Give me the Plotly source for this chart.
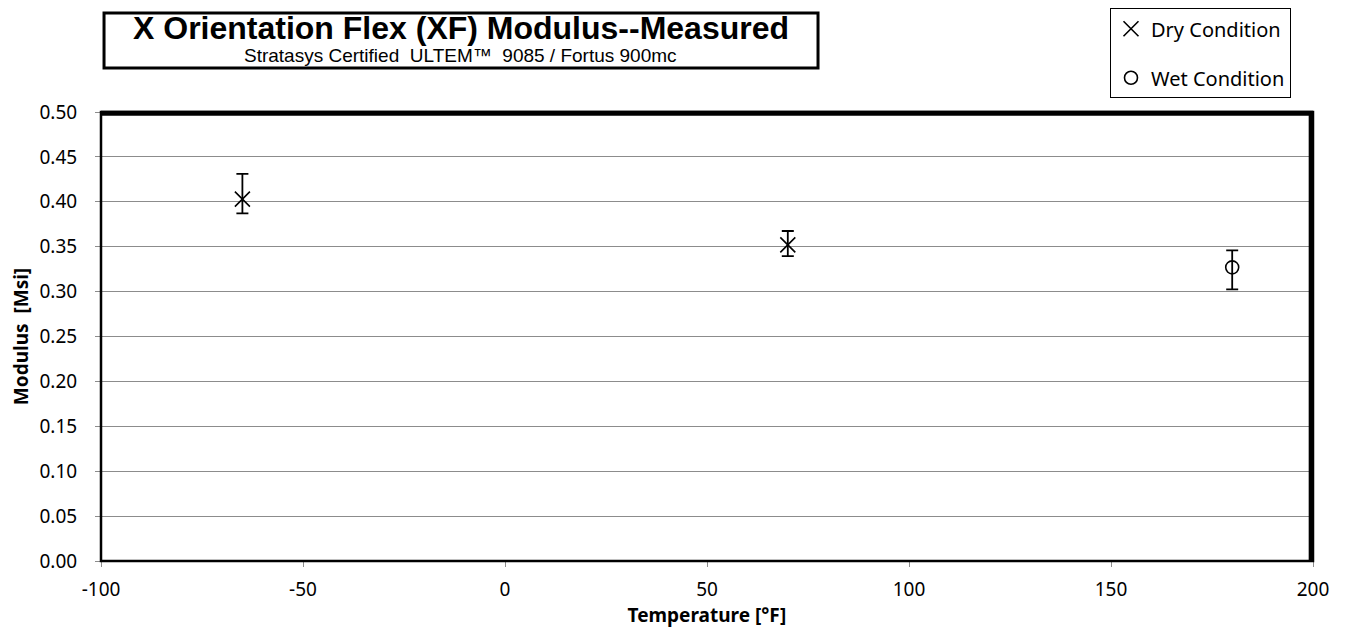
import plotly.graph_objects as go

# --- data ---
dry_temp = [-65, 70]
dry_modulus = [0.403, 0.352]
dry_err_plus = [0.028, 0.0155]
dry_err_minus = [0.016, 0.0125]

wet_temp = [180]
wet_modulus = [0.327]
wet_err_plus = [0.019]
wet_err_minus = [0.0245]

x_tickvals = [-100, -50, 0, 50, 100, 150, 200]
x_ticktext = ["-100", "-50", "0", "50", "100", "150", "200"]

TITLE = "X Orientation Flex (XF) Modulus--Measured"
SUBTITLE = "Stratasys Certified  ULTEM\u2122  9085 / Fortus 900mc"

FONT = "Noto Sans, Open Sans, sans-serif"
GRID = "#8c8c8c"

fig = go.Figure()

fig.add_trace(go.Scatter(
    x=dry_temp, y=dry_modulus, mode="markers", name="Dry Condition",
    legendgroup="dry",
    marker=dict(symbol="x-thin-open", size=15, color="black",
                line=dict(color="black", width=1.6)),
    error_y=dict(type="data", symmetric=False, array=dry_err_plus,
                 arrayminus=dry_err_minus, color="black", thickness=1.8, width=6),
))
fig.add_trace(go.Scatter(
    x=wet_temp, y=wet_modulus, mode="markers", name="Wet Condition",
    legendgroup="wet",
    marker=dict(symbol="circle-open", size=13, color="black",
                line=dict(color="black", width=1.6)),
    error_y=dict(type="data", symmetric=False, array=wet_err_plus,
                 arrayminus=wet_err_minus, color="black", thickness=1.8, width=6),
))

# frame around plot area: thin left/bottom, heavy top/right
fig.add_shape(type="rect", xref="paper", yref="paper", x0=0, x1=1, y0=0, y1=1,
              line=dict(color="black", width=2.5), layer="above")
fig.add_shape(type="line", xref="paper", yref="paper", x0=0, x1=1, y0=0.997, y1=0.997,
              line=dict(color="black", width=5), layer="above")
fig.add_shape(type="line", xref="paper", yref="paper", x0=0.9985, x1=0.9985, y0=0, y1=1,
              line=dict(color="black", width=5), layer="above")

# title box
fig.add_shape(type="rect", xref="paper", yref="paper",
              x0=0.0025, x1=0.5916, y0=1.098, y1=1.2205,
              line=dict(color="black", width=3), fillcolor="white")
fig.add_annotation(text="<b>" + TITLE + "</b>", xref="paper", yref="paper",
                   x=0.297, y=1.186, xanchor="center", yanchor="middle", showarrow=False,
                   font=dict(family="Liberation Sans, Arial", size=32, color="black"))
fig.add_annotation(text=SUBTITLE, xref="paper", yref="paper",
                   x=0.297, y=1.125, xanchor="center", yanchor="middle", showarrow=False,
                   font=dict(family="Liberation Sans, Arial", size=19, color="black"))

fig.update_layout(
    width=1353, height=635,
    margin=dict(l=93, r=48, t=104, b=82, autoexpand=False),
    plot_bgcolor="white", paper_bgcolor="white",
    font=dict(family=FONT, size=19, color="black"),
    showlegend=True,
    legend=dict(x=0.8325, y=1.231, xanchor="left", yanchor="top",
                bordercolor="black", borderwidth=1, bgcolor="white",
                font=dict(family=FONT, size=20), tracegroupgap=20,
                itemwidth=30),
    xaxis=dict(range=[-100, 200], tickvals=x_tickvals, ticktext=x_ticktext,
               showgrid=False, zeroline=False, automargin=False,
               showline=True, linecolor=GRID, linewidth=1,
               ticks="outside", tickcolor=GRID, ticklen=5, ticklabelstandoff=6,
               title=dict(text="<b>Temperature [\u00b0F]</b>", font=dict(size=19), standoff=2)),
    yaxis=dict(range=[0, 0.5], dtick=0.05, tickformat=".2f", automargin=False,
               showgrid=True, gridcolor=GRID, gridwidth=1, zeroline=False,
               showline=True, linecolor=GRID, linewidth=1,
               ticks="outside", tickcolor=GRID, ticklen=5, ticklabelstandoff=14,
               title=dict(text="<b>Modulus  [Msi]</b>", font=dict(size=19), standoff=8)),
)

fig.write_html("out.html")
